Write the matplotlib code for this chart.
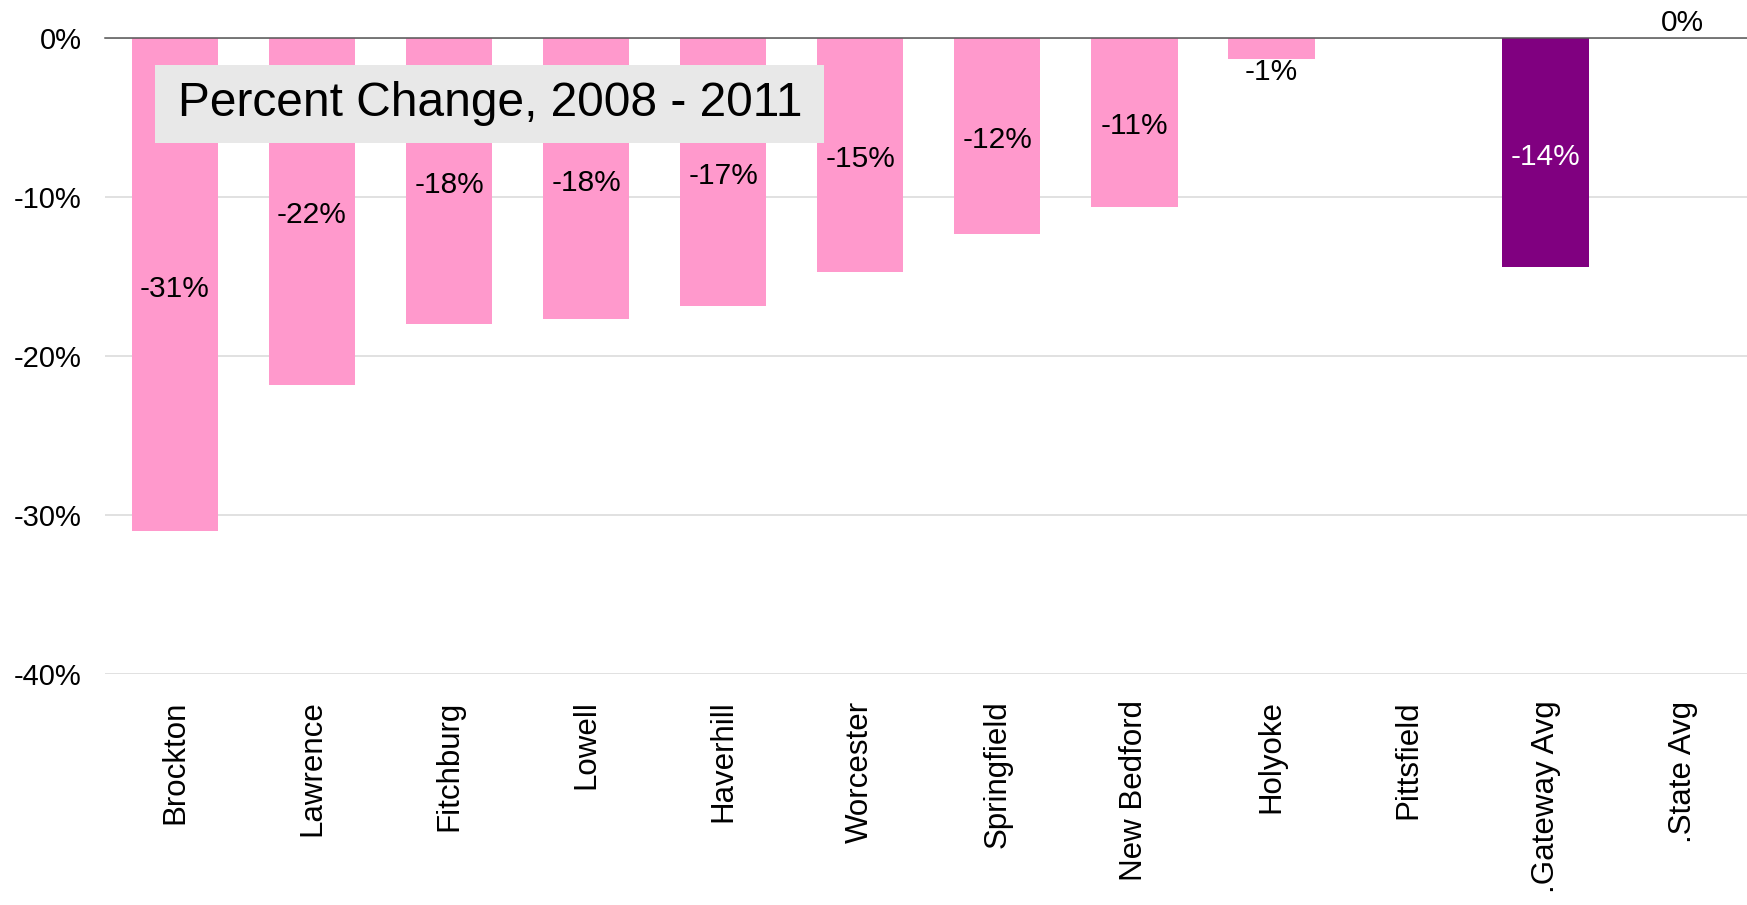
import matplotlib
matplotlib.use('Agg')
import matplotlib.pyplot as plt
import numpy as np

cities = ['Brockton', 'Lawrence', 'Fitchburg', 'Lowell', 'Haverhill', 'Worcester',
          'Springfield', 'New Bedford', 'Holyoke', 'Pittsfield', '.Gateway Avg', '.State Avg']
pct_change = [-31.0, -21.8, -18.0, -17.7, -16.85, -14.7, -12.3, -10.6, -1.35, np.nan, -14.4, 0.0]
yticks = [0, -10, -20, -30, -40]

pink = '#ff99cc'
purple = '#800080'
colors = [pink] * 10 + [purple, pink]

plt.rcParams['font.family'] = ['Liberation Sans', 'DejaVu Sans']

fig = plt.figure(figsize=(17.47, 9.05), dpi=100)
ax = fig.add_axes([0.0601, 0.2552, 0.9399, 0.7028])

x = np.arange(len(cities))
vals = np.nan_to_num(pct_change)
ax.bar(x, vals, width=0.63, color=colors, zorder=2)

ax.set_xlim(-0.51, 11.47)
ax.set_ylim(-40, 0)
ax.set_yticks(yticks)
ax.set_yticklabels([f'{t}%' for t in yticks], fontsize=21)
ax.set_xticks(x)
ax.set_xticklabels(cities, rotation=90, fontsize=22.5)
ax.tick_params(axis='both', length=0)
ax.tick_params(axis='y', pad=17)
ax.tick_params(axis='x', pad=19)
for s in ax.spines.values():
    s.set_visible(False)
ax.grid(axis='y', color='#d9d9d9', linewidth=1.1, zorder=0)
ax.set_axisbelow(True)
ax.axhline(0, color='#555555', linewidth=1.1, zorder=3, clip_on=False)

# value labels
for i, v in enumerate(pct_change):
    if np.isnan(v):
        continue
    txt = f'{round(v):.0f}%'
    col = 'white' if i == 10 else 'black'
    if v == 0:
        ax.annotate(txt, (i, 0), xytext=(0, 1), textcoords='offset points',
                    ha='center', va='bottom', fontsize=21.5, color=col, annotation_clip=False)
    elif abs(v) < 3:
        ax.annotate(txt, (i, v), xytext=(0, 1), textcoords='offset points',
                    ha='center', va='top', fontsize=21.5, color=col)
    else:
        ax.annotate(txt, (i, v / 2), xytext=(0, -3), textcoords='offset points',
                    ha='center', va='center', fontsize=21.5, color=col, zorder=4)

# title box
fig.patches.append(plt.Rectangle((155 / 1747, 1 - 143 / 905), 669 / 1747, 78 / 905,
                                 transform=fig.transFigure, facecolor='#e8e8e8',
                                 edgecolor='none', zorder=5))
fig.text(490 / 1747, 1 - 104 / 905, 'Percent Change, 2008 - 2011', fontsize=34.5,
         ha='center', va='center', zorder=6)

fig.savefig('out.png', dpi=100)
